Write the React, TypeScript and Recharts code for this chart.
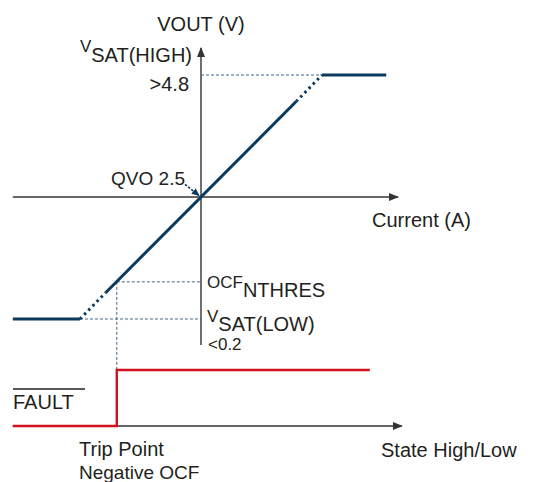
import { ComposedChart, Line, XAxis, YAxis, ReferenceLine } from 'recharts'

// output transfer curve: current (A) vs VOUT (V)
const QVO = 2.5
const VSAT_HIGH = 4.8
const VSAT_LOW = 0.2
const OCF_TRIP_I = -20
const OCF_NTHRES = 0.9

const satLowI = [-44.7, -28.75]
const satLowV = [0.2, 0.2]
const rampLowI = [-28.75, -22.6]
const rampLowV = [0.2, 0.7]
const rampI = [-22.6, 22.6]
const rampV = [0.7, 4.3]
const rampHighI = [22.6, 28.75]
const rampHighV = [4.3, 4.8]
const satHighI = [28.75, 44]
const satHighV = [4.8, 4.8]

// FAULT pin state (0 = low, 1 = high)
const faultI = [-44.7, -20, -20, 40.1]
const faultState = [0, 0, 1, 1]

// layout (px)
const W = 535
const H = 482
const ORIGIN_X = 201
const ORIGIN_Y = 197
const PX_PER_A = 4.21
const PX_PER_V = 53.04
const FAULT_LOW_Y = 426
const FAULT_PX = 56

const xDomain = [-ORIGIN_X / PX_PER_A, (W - ORIGIN_X) / PX_PER_A]
const vDomain = [QVO - (H - ORIGIN_Y) / PX_PER_V, QVO + ORIGIN_Y / PX_PER_V]
const sDomain = [-(H - FAULT_LOW_Y) / FAULT_PX, FAULT_LOW_Y / FAULT_PX]
// OCF threshold level expressed on the state axis (for the trip marker)
const ocfOnState = (FAULT_LOW_Y - (ORIGIN_Y - (OCF_NTHRES - QVO) * PX_PER_V)) / FAULT_PX

const NAVY = '#0b3a5e'
const RED = '#d0101a'
const AXIS = '#333333'
const GUIDE = '#3f6688'
const FONT = '"Liberation Sans", Arial, sans-serif'

const zip = (xs: number[], ys: number[], key = 'v') => xs.map((i, k) => ({ i, [key]: ys[k] }))

const lineProps = {
  type: 'linear' as const,
  dot: false,
  activeDot: false,
  isAnimationActive: false,
  dataKey: 'v',
}

function Labels() {
  const t = { fontFamily: FONT, fill: '#231f20' }
  return (
    <svg width={W} height={H} style={{ position: 'absolute', left: 0, top: 0, pointerEvents: 'none' }}>
      <text {...t} x={201} y={31} fontSize={20} textAnchor="middle">VOUT (V)</text>
      <text {...t} x={192} y={62} fontSize={20} textAnchor="end">
        <tspan fontSize={17} dy={-10}>V</tspan>
        <tspan dy={10}>SAT(HIGH)</tspan>
      </text>
      <text {...t} x={189} y={91} fontSize={20} textAnchor="end">&gt;4.8</text>
      <text {...t} x={185} y={185} fontSize={19} textAnchor="end">QVO 2.5</text>
      <text {...t} x={372} y={227} fontSize={20}>Current (A)</text>
      <text {...t} x={207} y={297} fontSize={20}>
        <tspan fontSize={17} dy={-9}>OCF</tspan>
        <tspan dy={9}>NTHRES</tspan>
      </text>
      <text {...t} x={207} y={331} fontSize={20}>
        <tspan fontSize={17} dy={-9}>V</tspan>
        <tspan dy={9}>SAT(LOW)</tspan>
      </text>
      <text {...t} x={208} y={350} fontSize={17}>&lt;0.2</text>
      <line x1={13} x2={85} y1={389} y2={389} stroke="#231f20" strokeWidth={1.3} />
      <text {...t} x={13} y={409} fontSize={20}>FAULT</text>
      <text {...t} x={79} y={456} fontSize={20}>Trip Point</text>
      <text {...t} x={79} y={479} fontSize={19}>Negative OCF</text>
      <text {...t} x={381} y={457} fontSize={20}>State High/Low</text>
    </svg>
  )
}

export default function App() {
  return (
    <div style={{ position: 'absolute', left: 0, top: 0, width: W, height: H, background: '#fff' }}>
      <ComposedChart width={W} height={H} margin={{ top: 0, right: 0, bottom: 0, left: 0 }}>
        <defs>
          <marker id="arrowAxis" markerWidth={10} markerHeight={8} refX={9} refY={4} orient="auto" markerUnits="userSpaceOnUse">
            <path d="M0,0 L10,4 L0,8 z" fill={AXIS} />
          </marker>
          <marker id="arrowNavy" markerWidth={8} markerHeight={7} refX={7} refY={3.5} orient="auto" markerUnits="userSpaceOnUse">
            <path d="M0,0 L8,3.5 L0,7 z" fill={NAVY} />
          </marker>
        </defs>
        <XAxis type="number" dataKey="i" domain={xDomain} allowDataOverflow hide />
        <YAxis yAxisId="v" type="number" domain={vDomain} allowDataOverflow hide />
        <YAxis yAxisId="s" type="number" domain={sDomain} allowDataOverflow hide />

        {/* axes */}
        <ReferenceLine yAxisId="v" segment={[{ x: -44.7, y: QVO }, { x: 46.8, y: QVO }]} stroke={AXIS} strokeWidth={1.4} markerEnd="url(#arrowAxis)" ifOverflow="visible" />
        <ReferenceLine yAxisId="v" segment={[{ x: 0, y: -0.29 }, { x: 0, y: 5.31 }]} stroke={AXIS} strokeWidth={1.4} markerEnd="url(#arrowAxis)" ifOverflow="visible" />
        <ReferenceLine yAxisId="s" segment={[{ x: -44.7, y: 0 }, { x: 47.7, y: 0 }]} stroke={AXIS} strokeWidth={1.4} markerEnd="url(#arrowAxis)" ifOverflow="visible" />

        {/* guide lines */}
        <ReferenceLine yAxisId="v" segment={[{ x: 0, y: VSAT_HIGH }, { x: 28.75, y: VSAT_HIGH }]} stroke={GUIDE} strokeDasharray="3 2" ifOverflow="visible" />
        <ReferenceLine yAxisId="v" segment={[{ x: OCF_TRIP_I, y: OCF_NTHRES }, { x: 0, y: OCF_NTHRES }]} stroke={GUIDE} strokeDasharray="3 2" ifOverflow="visible" />
        <ReferenceLine yAxisId="v" segment={[{ x: -28.75, y: VSAT_LOW }, { x: 0, y: VSAT_LOW }]} stroke={GUIDE} strokeDasharray="3 2" ifOverflow="visible" />
        <ReferenceLine yAxisId="s" segment={[{ x: OCF_TRIP_I, y: ocfOnState }, { x: OCF_TRIP_I, y: 1 }]} stroke={GUIDE} strokeDasharray="3 2" ifOverflow="visible" />
        <ReferenceLine yAxisId="v" segment={[{ x: -3.8, y: 2.74 }, { x: -0.5, y: 2.53 }]} stroke={NAVY} strokeWidth={1.6} strokeDasharray="2.5 1.5" markerEnd="url(#arrowNavy)" ifOverflow="visible" />

        {/* transfer curve */}
        <Line {...lineProps} yAxisId="v" data={zip(satLowI, satLowV)} stroke={NAVY} strokeWidth={3} />
        <Line {...lineProps} yAxisId="v" data={zip(rampLowI, rampLowV)} stroke={NAVY} strokeWidth={3} strokeDasharray="2.5 3.5" />
        <Line {...lineProps} yAxisId="v" data={zip(rampI, rampV)} stroke={NAVY} strokeWidth={3} />
        <Line {...lineProps} yAxisId="v" data={zip(rampHighI, rampHighV)} stroke={NAVY} strokeWidth={3} strokeDasharray="2.5 3.5" />
        <Line {...lineProps} yAxisId="v" data={zip(satHighI, satHighV)} stroke={NAVY} strokeWidth={3} />

        {/* FAULT output */}
        <Line {...lineProps} yAxisId="s" data={zip(faultI, faultState)} stroke={RED} strokeWidth={2.4} />
      </ComposedChart>
      <Labels />
    </div>
  )
}
